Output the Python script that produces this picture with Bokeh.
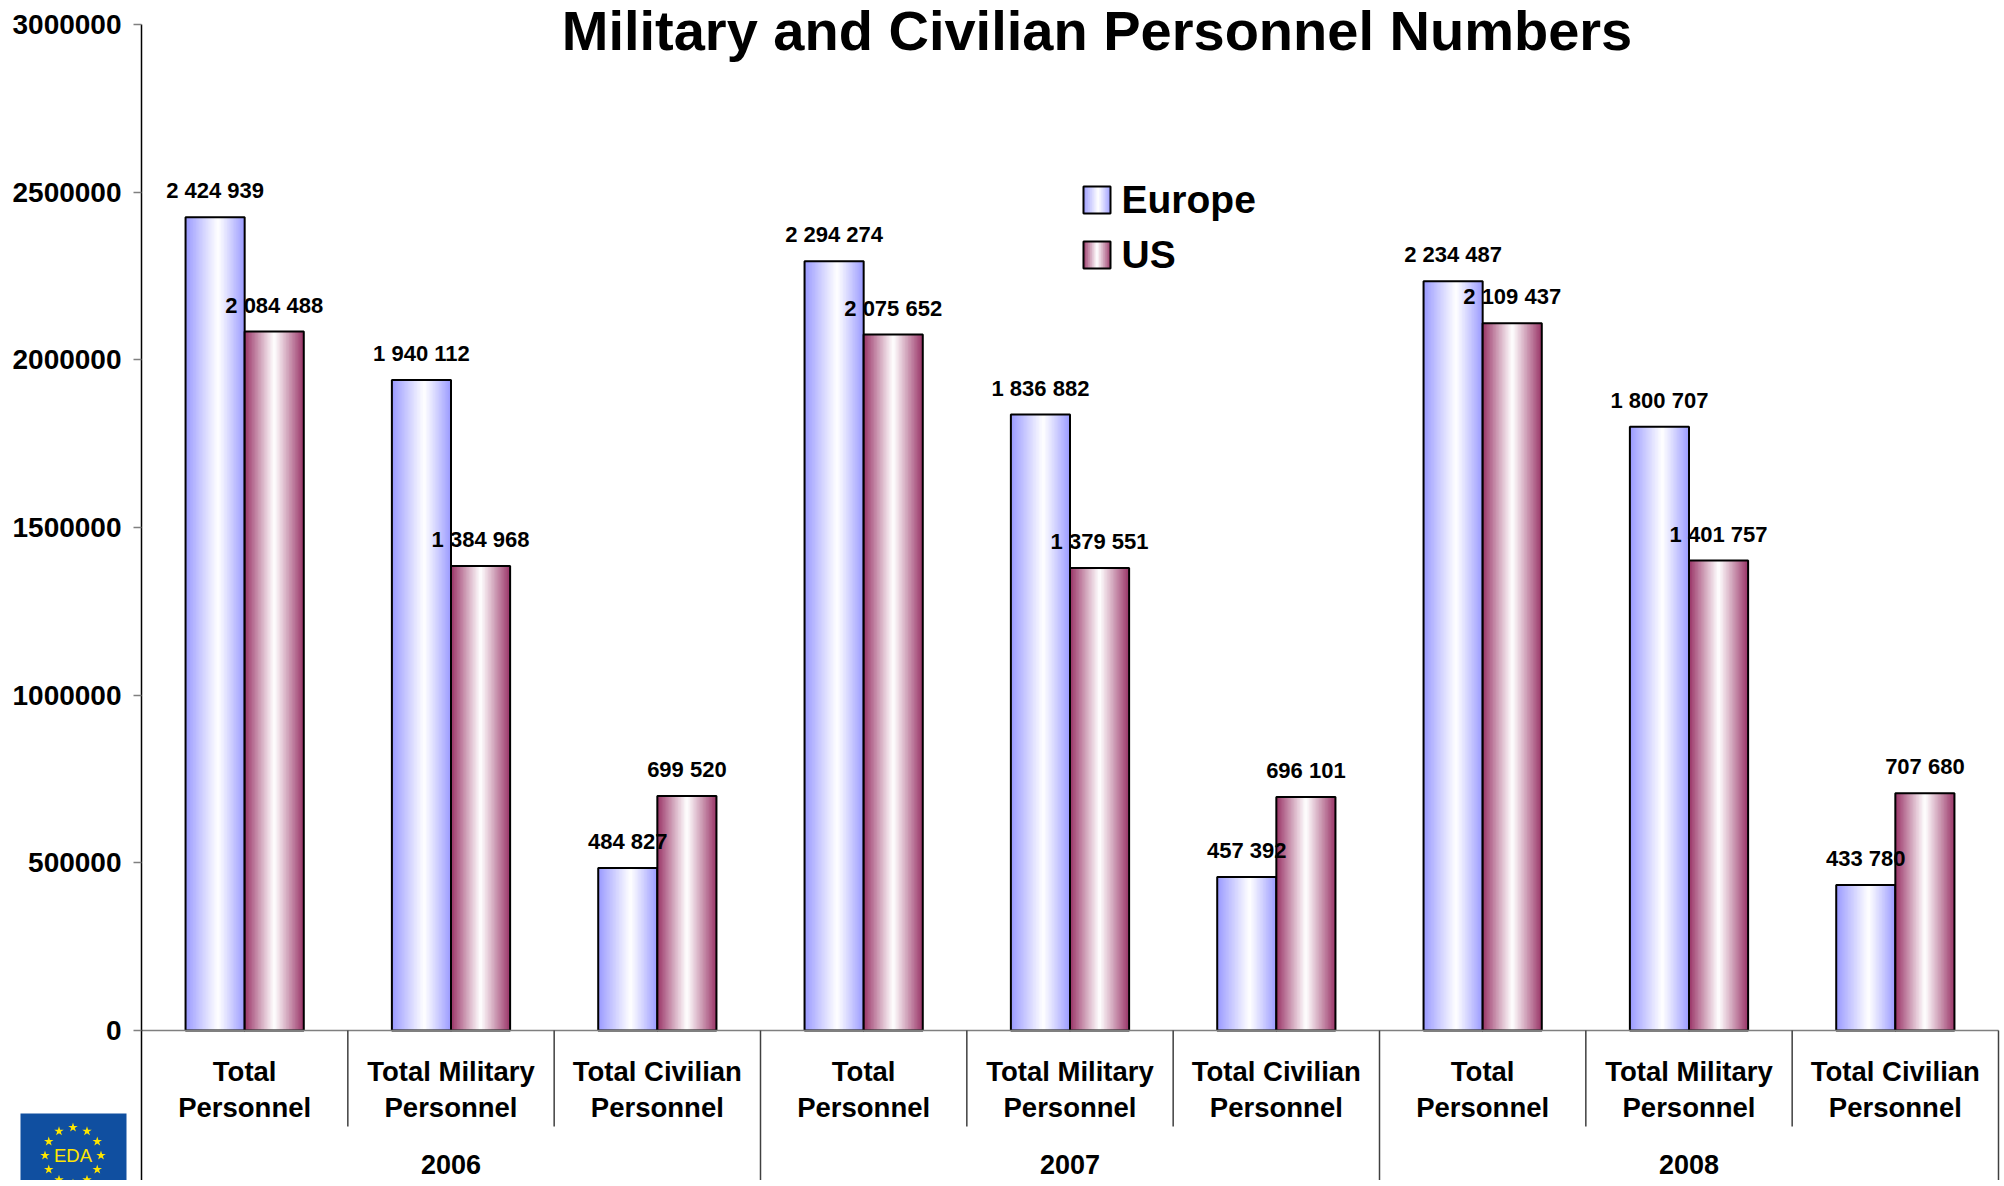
import math
from bokeh.plotting import figure
from bokeh.models import FixedTicker
from bokeh.core.properties import value
from bokeh.embed import file_html
from bokeh.resources import INLINE

# ---------------- data ----------------
title_text = "Military and Civilian Personnel Numbers"
years = ["2006", "2007", "2008"]
categories = ["Total Personnel", "Total Military Personnel", "Total Civilian Personnel"]
series_names = ["Europe", "US"]
europe = [2424939, 1940112, 484827, 2294274, 1836882, 457392, 2234487, 1800707, 433780]
us = [2084488, 1384968, 699520, 2075652, 1379551, 696101, 2109437, 1401757, 707680]
y_ticks = [0, 500000, 1000000, 1500000, 2000000, 2500000, 3000000]
y_tick_labels = ["0", "500000", "1000000", "1500000", "2000000", "2500000", "3000000"]

# ---------------- layout / style ----------------
FONT = "Liberation Sans"
W, H = 2000, 1180
AX_PX, RIGHT_PX = 141, 1998     # pixel columns of the y axis and of the right end
Y0_PX, YTOP_PX = 1030, 24       # pixel rows of 0 and of the top tick
n_cat = len(years) * len(categories)
ppx = (RIGHT_PX - AX_PX) / n_cat
ppy = (Y0_PX - YTOP_PX) / y_ticks[-1]
BASE_SHIFT = 0.38               # renderer puts the baseline this many em lower


def dx(fx):
    return (fx - AX_PX) / ppx


def dy(fy):
    return (Y0_PX - fy) / ppy


y_start, y_end = dy(H), dy(0)

EDGE = {"Europe": (153, 153, 255), "US": (153, 51, 102)}
WHITE_AT = {"Europe": 0.55, "US": 0.5}
NS = 40
BW = 0.2865


def grad_color(edge, t, w):
    a = (w - t) / w if t < w else (t - w) / (1 - w)
    a = min(1.0, max(0.0, a)) ** 1.05
    return "#%02x%02x%02x" % tuple(int(round(255 + (c - 255) * a)) for c in edge)


def txt(x, y, text, size, align="center", bold=True, color="black", font=FONT, extra=0):
    p.text(x=x, y=y, text=text, text_align=align, text_baseline="alphabetic",
           y_offset=-BASE_SHIFT * size + extra, text_font=value(font),
           text_font_style="bold" if bold else "normal",
           text_font_size=f"{size}px", text_color=color)


p = figure(width=W, height=H, x_range=(dx(0), dx(W)), y_range=(y_start, y_end),
           output_backend="svg", toolbar_location=None, x_axis_location=None,
           y_axis_location="left", min_border_left=0, min_border_right=0,
           min_border_top=0, min_border_bottom=0, outline_line_color=None,
           title=None)
p.grid.visible = False
p.background_fill_color = "white"
p.border_fill_color = "white"

# y axis, pinned at x = 0
yax = p.yaxis[0]
yax.fixed_location = 0
yax.ticker = FixedTicker(ticks=y_ticks)
yax.major_label_overrides = {t: l for t, l in zip(y_ticks, y_tick_labels)}
yax.bounds = (y_start, y_ticks[-1])
yax.axis_line_color = "black"
yax.axis_line_width = 1.5
yax.major_tick_out = 8
yax.major_tick_in = 0
yax.major_tick_line_color = "#808080"
yax.major_tick_line_width = 1.5
yax.minor_tick_line_color = None
yax.major_label_standoff = 12
yax.major_label_text_font = FONT
yax.major_label_text_font_style = "bold"
yax.major_label_text_font_size = "28px"
yax.major_label_text_color = "black"


def gradient_box(left, right, bottom, top, name):
    sw = (right - left) / NS
    L, R, B, T, C = [], [], [], [], []
    for k in range(NS):
        l = left + k * sw
        r = l + sw * (1.6 if k < NS - 1 else 1.0)
        L.append(l); R.append(r); B.append(bottom); T.append(top)
        C.append(grad_color(EDGE[name], (k + 0.5) / NS, WHITE_AT[name]))
    return L, R, B, T, C


# bars
for s, vals in enumerate([europe, us]):
    name = series_names[s]
    L, R, B, T, C = [], [], [], [], []
    lefts, rights = [], []
    for i, v in enumerate(vals):
        left = i + 0.5 - BW + s * BW
        right = left + BW
        lefts.append(left); rights.append(right)
        l, r, b, t, c = gradient_box(left, right, 0, v, name)
        L += l; R += r; B += b; T += t; C += c
    p.quad(left=L, right=R, bottom=B, top=T, fill_color=C, line_color=None)
    p.quad(left=lefts, right=rights, bottom=[0] * len(vals), top=vals,
           fill_color=None, line_color="black", line_width=2)

# data labels
for s, vals in enumerate([europe, us]):
    xs = [i + 0.5 - BW / 2 + s * BW for i in range(len(vals))]
    labels = [f"{v:,}".replace(",", " ") for v in vals]
    txt(xs, vals, labels, 22, extra=-18)

# category axis: baseline + separators
p.segment(x0=[0], y0=[0], x1=[n_cat], y1=[0], line_color="#7f7f7f", line_width=1.5)
sx, sy0, sy1 = [], [], []
for k in range(1, n_cat + 1):
    sx.append(k); sy0.append(0)
    sy1.append(y_start if k % len(categories) == 0 else dy(1126))
p.segment(x0=sx, y0=sy0, x1=sx, y1=sy1, line_color="#404040", line_width=1.5)

line1, line2, cx = [], [], []
for g in range(len(years)):
    for j, c in enumerate(categories):
        a, b = c.rsplit(" ", 1)
        line1.append(a); line2.append(b); cx.append(g * len(categories) + j + 0.5)
txt(cx, [dy(1081)] * len(cx), line1, 27.5)
txt(cx, [dy(1117)] * len(cx), line2, 27.5)
txt([g * len(categories) + len(categories) / 2 for g in range(len(years))],
    [dy(1174)] * len(years), years, 27)

# title
txt([dx(1096.5)], [dy(51)], [title_text], 56)

# legend
for s, name in enumerate(series_names):
    top_px = 186 + s * 55
    l, r, b, t, c = gradient_box(dx(1083), dx(1110), dy(top_px + 27), dy(top_px), name)
    p.quad(left=l, right=r, bottom=b, top=t, fill_color=c, line_color=None)
    p.quad(left=[dx(1083)], right=[dx(1110)], bottom=[dy(top_px + 27)], top=[dy(top_px)],
           fill_color=None, line_color="black", line_width=2)
    txt([dx(1121)], [dy(top_px + 28)], [name], 39, align="left")

# EDA logo (bottom-left corner)
logo_cx, logo_cy = 72.5, 1155
p.quad(left=[dx(20)], right=[dx(126)], top=[dy(1113)], bottom=[y_start],
       fill_color="#104FA0", line_color=None)
star_x = [dx(logo_cx + 28 * math.sin(2 * math.pi * k / 12)) for k in range(12)]
star_y = [dy(logo_cy - 28 * math.cos(2 * math.pi * k / 12)) for k in range(12)]
p.scatter(x=star_x, y=star_y, marker="star", size=10, fill_color="#FFE600", line_color=None)
txt([dx(logo_cx)], [dy(logo_cy + 7)], ["EDA"], 18.5, bold=False, color="#FFE600")

open("out.html", "w").write(file_html(p, INLINE))
